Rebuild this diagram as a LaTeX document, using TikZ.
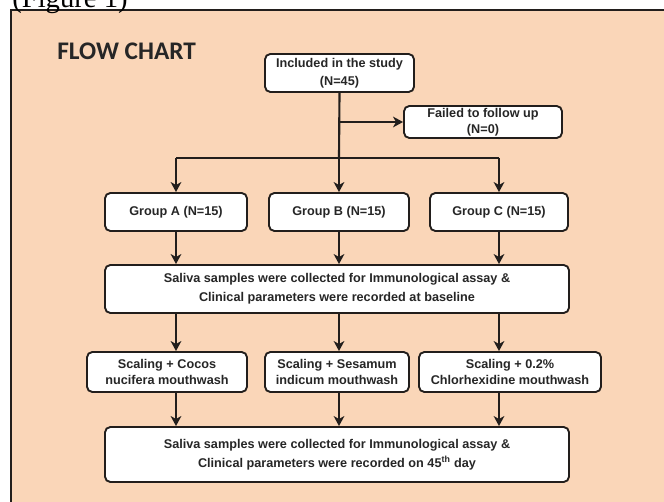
\documentclass[tikz,border=0pt]{standalone}
\usepackage{fontspec}
\setmainfont{Liberation Sans}
\newfontfamily\titlefont{Carlito}
\newfontfamily\capfont{Liberation Serif}
\usetikzlibrary{arrows.meta}
\definecolor{peach}{RGB}{250,214,184}
\definecolor{ink}{RGB}{34,30,28}
\begin{document}
\begin{tikzpicture}[x=0.75pt,y=-0.75pt,
  box/.style={draw=ink,line width=1.4pt,fill=white,rounded corners=4pt,inner sep=0pt,
    align=center,text=black!85,font=\bfseries\fontsize{9.5}{13.5}\selectfont},
  conn/.style={draw=ink,line width=1.6pt},
  arr/.style={conn,-{Stealth[length=7.5pt,width=8pt,inset=2.2pt]}}]
\useasboundingbox (0,0) rectangle (664,502);
\fill[white] (0,0) rectangle (664,502);
\fill[peach] (11,10) rectangle (664,502);
\draw[ink,line width=1.5pt] (11,502) -- (11,10) -- (664,10);
\node[anchor=base west,inner sep=0pt,font=\capfont\fontsize{21.5}{24}\selectfont] (cap) at (12,7.5) {(Figure 1)};
\node[anchor=base west,inner sep=0pt,text=black!85,font=\titlefont\bfseries\fontsize{19}{22}\selectfont] (title) at (57,60) {FLOW CHART};

\node[box,minimum width=111.75pt,minimum height=28.5pt] (incl) at (339.5,73) {Included in the study\\(N=45)};
\node[box,minimum width=118.5pt,minimum height=24pt,font=\bfseries\fontsize{9.5}{12}\selectfont] (fail) at (483,122) {Failed to follow up\\(N=0)};
\node[box,minimum width=106.5pt,minimum height=28.5pt] (grpA) at (176,212) {Group A (N=15)};
\node[box,minimum width=105pt,minimum height=28.5pt] (grpB) at (339,212) {Group B (N=15)};
\node[box,minimum width=103.5pt,minimum height=28.5pt] (grpC) at (499,212) {Group C (N=15)};
\node[box,minimum width=348pt,minimum height=36pt,font=\bfseries\fontsize{9.5}{14.25}\selectfont] (base) at (337,289) {Saliva samples were collected for Immunological assay \&\\Clinical parameters were recorded at baseline};
\node[box,minimum width=120pt,minimum height=30pt,font=\bfseries\fontsize{9.5}{12}\selectfont] (trA) at (167,372) {Scaling + Cocos\\nucifera mouthwash};
\node[box,minimum width=108pt,minimum height=30pt,font=\bfseries\fontsize{9.5}{12}\selectfont] (trB) at (337,372) {Scaling + Sesamum\\indicum mouthwash};
\node[box,minimum width=136.5pt,minimum height=30pt,font=\bfseries\fontsize{9.5}{12}\selectfont] (trC) at (510,372) {Scaling + 0.2\%\\Chlorhexidine mouthwash};
\node[box,minimum width=348pt,minimum height=41.25pt,font=\bfseries\fontsize{9.5}{14.25}\selectfont] (final) at (337,454.5) {Saliva samples were collected for Immunological assay \&\\Clinical parameters were recorded on 45\textsuperscript{th} day};

\coordinate (jA) at (176,158);
\coordinate (jB) at (339,158);
\coordinate (jC) at (499,158);
\coordinate (side) at (339,122);
\draw[conn] (incl.south) -- (jB);
\draw[conn] (jA) -- (jC);
\draw[arr] (side) -- (fail.west);
\draw[arr] (jA) -- (grpA.north);
\draw[arr] (jB) -- (grpB.north);
\draw[arr] (jC) -- (grpC.north);
\draw[arr] (grpA.south) -- (grpA.south |- base.north);
\draw[arr] (grpB.south) -- (grpB.south |- base.north);
\draw[arr] (grpC.south) -- (grpC.south |- base.north);
\draw[arr] (base.south -| grpA.south) -- (trA.north -| grpA.south);
\draw[arr] (base.south -| grpB.south) -- (trB.north -| grpB.south);
\draw[arr] (base.south -| grpC.south) -- (trC.north -| grpC.south);
\draw[arr] (trA.south -| grpA.south) -- (final.north -| grpA.south);
\draw[arr] (trB.south -| grpB.south) -- (final.north -| grpB.south);
\draw[arr] (trC.south -| grpC.south) -- (final.north -| grpC.south);
\end{tikzpicture}
\end{document}
